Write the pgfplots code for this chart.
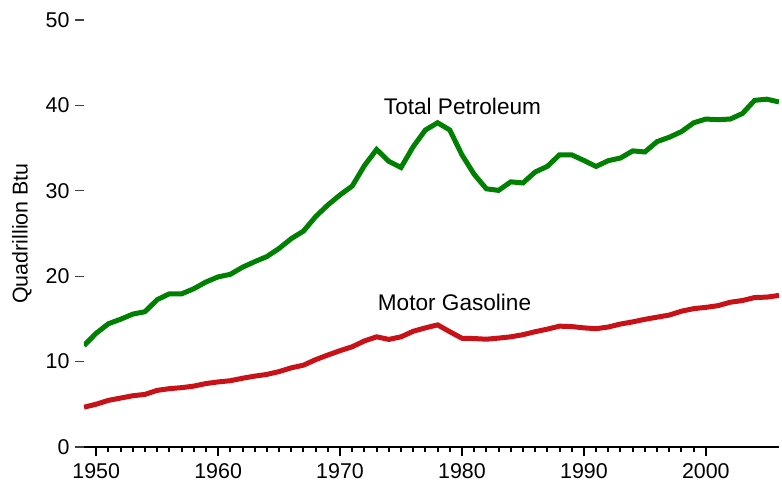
\documentclass[border=0pt]{standalone}
\usepackage{fontspec}
\setmainfont{Liberation Sans}
\usepackage{pgfplots}
\pgfplotsset{compat=1.18}
\usetikzlibrary{calc}
\definecolor{petgreen}{RGB}{0,128,0}
\definecolor{gasred}{RGB}{200,18,24}
\begin{document}
\begin{tikzpicture}
\begin{axis}[name=ax, scale only axis, width=347.5pt, height=213.5pt,
  xmin=1949, xmax=2006, ymin=0, ymax=50,
  axis x line*=bottom, axis y line*=left,
  y axis line style={draw=none},
  x axis line style={line width=1pt, -},
  xtick={1950,1960,...,2000}, minor x tick num=9,
  ytick={0,10,...,50}, minor y tick num=0,
  tick align=outside,
  major tick length=4.5pt, minor tick length=2.5pt,
  x tick style={line width=1pt, black},
  y tick style={line width=0.6pt, black!75},
  /pgf/number format/assume math mode=true,
  xticklabel style={/pgf/number format/1000 sep={}},
  tick label style={font=\fontsize{10.7}{12}\selectfont},
  yticklabel style={xshift=0.8pt},
  ylabel={Quadrillion Btu},
  every axis y label/.style={at={(axis description cs:0,0.5)}, xshift=-31pt, rotate=90, anchor=center, font=\fontsize{10.7}{12}\selectfont},
]
\addplot[petgreen, line width=2.5pt] coordinates {
(1949,11.88) (1950,13.32) (1951,14.43) (1952,14.96) (1953,15.56) (1954,15.84)
(1955,17.25) (1956,17.94) (1957,17.93) (1958,18.53) (1959,19.32) (1960,19.92)
(1961,20.22) (1962,21.05) (1963,21.70) (1964,22.30) (1965,23.25) (1966,24.40)
(1967,25.28) (1968,26.98) (1969,28.34) (1970,29.52) (1971,30.56) (1972,32.95)
(1973,34.84) (1974,33.45) (1975,32.73) (1976,35.17) (1977,37.12) (1978,37.97)
(1979,37.12) (1980,34.20) (1981,31.93) (1982,30.23) (1983,30.05) (1984,31.05)
(1985,30.92) (1986,32.20) (1987,32.86) (1988,34.22) (1989,34.21) (1990,33.55)
(1991,32.85) (1992,33.53) (1993,33.84) (1994,34.67) (1995,34.55) (1996,35.76)
(1997,36.27) (1998,36.93) (1999,37.96) (2000,38.40) (2001,38.33) (2002,38.40)
(2003,39.05) (2004,40.59) (2005,40.73) (2006,40.40)
};
\addplot[gasred, line width=2.5pt] coordinates {
(1949,4.66) (1950,5.01) (1951,5.46) (1952,5.73) (1953,6.00) (1954,6.16)
(1955,6.63) (1956,6.83) (1957,6.95) (1958,7.13) (1959,7.43) (1960,7.62)
(1961,7.76) (1962,8.05) (1963,8.30) (1964,8.50) (1965,8.83) (1966,9.27)
(1967,9.58) (1968,10.23) (1969,10.77) (1970,11.28) (1971,11.74) (1972,12.42)
(1973,12.90) (1974,12.60) (1975,12.90) (1976,13.55) (1977,13.95) (1978,14.30)
(1979,13.50) (1980,12.73) (1981,12.70) (1982,12.62) (1983,12.75) (1984,12.90)
(1985,13.15) (1986,13.50) (1987,13.80) (1988,14.15) (1989,14.10) (1990,13.95)
(1991,13.85) (1992,14.05) (1993,14.40) (1994,14.65) (1995,14.95) (1996,15.20)
(1997,15.45) (1998,15.90) (1999,16.20) (2000,16.35) (2001,16.55) (2002,16.95)
(2003,17.15) (2004,17.50) (2005,17.55) (2006,17.75)
};
\node[anchor=base, font=\fontsize{11.3}{13}\selectfont] at (axis cs:1980.04,38.96) {Total Petroleum};
\node[anchor=base, font=\fontsize{11.3}{13}\selectfont] at (axis cs:1979.39,15.96) {Motor Gasoline};
\end{axis}
\pgfresetboundingbox
\path[use as bounding box] ($(ax.south west)+(-42pt,-18.5pt)$) rectangle ($(ax.north east)+(1.5pt,10pt)$);
\end{tikzpicture}
\end{document}
